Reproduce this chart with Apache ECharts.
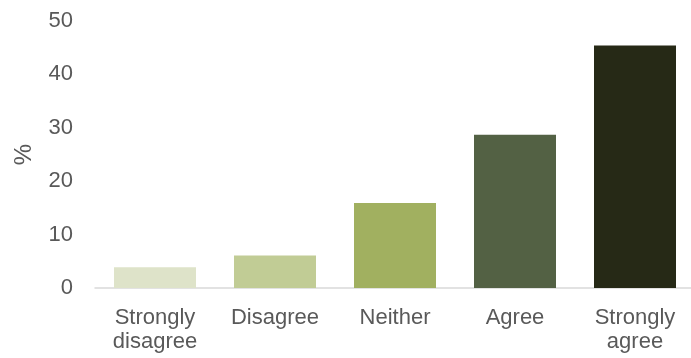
<!DOCTYPE html>
<html>
<head>
<meta charset="utf-8">
<script src="https://cdn.jsdelivr.net/npm/echarts@6/dist/echarts.min.js"></script>
<style>
  html, body { margin: 0; padding: 0; background: #ffffff; }
  #chart { width: 691px; height: 358px; }
</style>
</head>
<body>
<div id="chart"></div>
<script>
// Survey response distribution (percent of respondents)
const categories = ['Strongly\ndisagree', 'Disagree', 'Neither', 'Agree', 'Strongly\nagree'];
const percentages = [3.9, 6.1, 15.9, 28.7, 45.4];
const barColors = ['#dee3c9', '#c1cc95', '#a1b060', '#536144', '#262916'];
const yTicks = [0, 10, 20, 30, 40, 50];

const chart = echarts.init(document.getElementById('chart'));
const textColor = '#595959';
const fontFamily = 'Liberation Sans, Arial, sans-serif';

chart.setOption({
  animation: false,
  grid: { left: 95, width: 600, top: 21, bottom: 70, outerBoundsMode: 'none', containLabel: false },
  xAxis: {
    type: 'category',
    data: categories,
    axisLine: { lineStyle: { color: '#d9d9d9', width: 1.5 } },
    axisTick: { show: false },
    axisLabel: {
      color: textColor,
      fontSize: 22,
      fontFamily: fontFamily,
      lineHeight: 24,
      margin: 18,
      interval: 0
    }
  },
  yAxis: {
    type: 'value',
    min: yTicks[0],
    max: yTicks[yTicks.length - 1],
    interval: 10,
    name: '%',
    nameLocation: 'middle',
    nameGap: 59,
    nameTextStyle: { color: textColor, fontSize: 24, fontFamily: fontFamily },
    axisLine: { show: false },
    axisTick: { show: false },
    splitLine: { show: false },
    axisLabel: {
      color: textColor,
      fontSize: 22,
      fontFamily: fontFamily,
      margin: 22
    }
  },
  series: [{
    type: 'bar',
    barWidth: 82,
    data: percentages.map((v, i) => ({ value: v, itemStyle: { color: barColors[i] } }))
  }]
});
</script>
</body>
</html>
